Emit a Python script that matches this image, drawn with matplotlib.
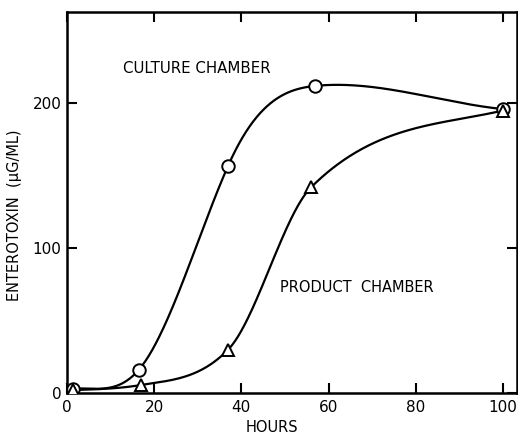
import numpy as np
import matplotlib
matplotlib.use("Agg")
import matplotlib.pyplot as plt

# Data
hours_culture = [1.4, 16.5, 37, 57, 100]
culture = [3, 16, 157, 212, 196]
# tangent of the hand-drawn curve at each point (units of value per hour)
culture_tangent = [0.2, 3.5, 6.8, 0.3, -0.3]

hours_product = [1.4, 17, 37, 56, 100]
product = [2, 5.5, 30, 142, 195]
product_tangent = [0.1, 0.5, 3.1, 3.0, 0.7]

xticks = [0, 20, 40, 60, 80, 100]
yticks = [0, 100, 200]


def hermite_curve(x, y, m, xs):
    """Cubic Hermite curve through the data points with the given tangents."""
    x = np.asarray(x, float)
    y = np.asarray(y, float)
    m = np.asarray(m, float)
    n = len(x)
    h = np.diff(x)
    xs = np.asarray(xs, float)
    idx = np.clip(np.searchsorted(x, xs) - 1, 0, n - 2)
    t = (xs - x[idx]) / h[idx]
    h00 = 2 * t**3 - 3 * t**2 + 1
    h10 = t**3 - 2 * t**2 + t
    h01 = -2 * t**3 + 3 * t**2
    h11 = t**3 - t**2
    return h00 * y[idx] + h10 * h[idx] * m[idx] + h01 * y[idx + 1] + h11 * h[idx] * m[idx + 1]


plt.rcParams['font.family'] = ['DejaVu Sans']
fig = plt.figure(figsize=(5.18, 4.37), dpi=100)
ax = fig.add_axes([0.129, 0.1007, 0.869, 0.8718])

xs1 = np.linspace(hours_culture[0], hours_culture[-1], 500)
xs2 = np.linspace(hours_product[0], hours_product[-1], 500)
ax.plot(xs1, hermite_curve(hours_culture, culture, culture_tangent, xs1), color='black', lw=1.6)
ax.plot(xs2, hermite_curve(hours_product, product, product_tangent, xs2), color='black', lw=1.6)
ax.plot(hours_culture, culture, 'o', ms=9, mfc='white', mec='black', mew=1.4, zorder=3)
ax.plot(hours_product, product, '^', ms=8, mfc='white', mec='black', mew=1.4, zorder=4)

ax.set_xlim(0, 103.2)
ax.set_ylim(0, 263)
ax.set_xticks(xticks)
ax.set_yticks(yticks)
ax.set_xticklabels([str(v) for v in xticks], fontsize=11)
ax.set_yticklabels([str(v) for v in yticks], fontsize=11)
ax.tick_params(direction='in', length=7, width=1.5, top=True, right=True, pad=5)
ax.tick_params(axis='y', pad=4)
for s in ax.spines.values():
    s.set_linewidth(1.8)

ax.text(0.125, 0.852, 'CULTURE CHAMBER', transform=ax.transAxes, fontsize=10.8, va='center')
fig.text(280 / 518, 1 - 287 / 437, 'PRODUCT  CHAMBER', fontsize=10.5, va='center')
fig.text(272 / 518, 1 - 428 / 437, 'HOURS', fontsize=10.5, ha='center', va='center')
fig.text(15 / 518, 1 - 215 / 437, 'ENTEROTOXIN  (μG/ML)', fontsize=10.5, rotation=90,
         ha='center', va='center')

fig.savefig('out.png', dpi=100)
